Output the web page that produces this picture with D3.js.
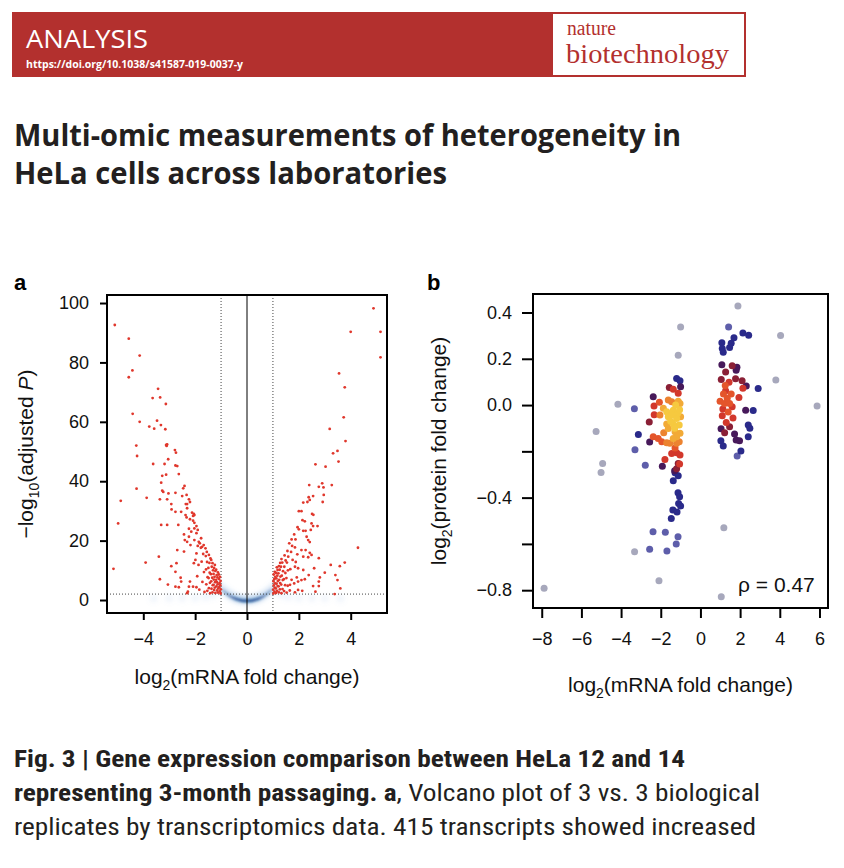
<!DOCTYPE html>
<html>
<head>
<meta charset="utf-8">
<script src="https://cdn.jsdelivr.net/npm/d3@7"></script>
<style>body{margin:0;background:#fff}</style>
</head>
<body>
<div id="fig"></div>
<script>
// ---- PANEL A: volcano plot, significant genes ----
var downGenes = [
  [-5.1,92.6],[-4.56,88.0],[-4.14,82.3],[-4.42,77.3],[-4.56,75.0],[-3.43,71.1],[-3.64,68.0],[-3.35,68.2],
  [-3.13,66.0],[-4.41,62.7],[-4.14,60.0],[-3.77,58.4],[-3.47,60.4],[-3.58,57.7],[-3.32,58.9],[-3.15,57.5],
  [-4.27,52.0],[-4.24,48.5],[-3.08,52.4],[-3.1,51.9],[-3.12,52.2],[-2.78,50.5],[-2.74,49.6],[-3.62,45.8],
  [-3.18,45.8],[-3.04,47.4],[-2.76,45.3],[-2.69,45.1],[-3.27,41.8],[-3.12,42.2],[-2.63,42.4],[-3.31,39.5],
  [-4.26,37.5],[-4.87,33.4],[-2.41,38.4],[-2.46,37.6],[-3.27,36.8],[-3.23,36.4],[-3.03,35.9],[-2.76,36.1],
  [-2.33,35.4],[-2.5,35.0],[-3.87,34.4],[-3.36,33.9],[-3.08,33.9],[-2.24,33.9],[-2.2,33.0],[-2.31,32.3],
  [-2.36,32.3],[-2.92,32.3],[-2.91,30.5],[-2.76,29.7],[-2.54,29.7],[-2.31,30.9],[-2.12,29.4],[-2.05,29.0],
  [-2.08,28.3],[-2.03,28.6],[-2.37,28.6],[-2.33,27.8],[-2.2,27.2],[-2.08,26.7],[-2.03,26.0],[-4.97,25.8],
  [-3.31,25.3],[-3.08,25.3],[-2.65,25.3],[-1.95,24.9],[-2.03,24.1],[-1.9,23.6],[-2.24,24.0],[-2.15,23.0],
  [-1.95,22.5],[-2.43,22.1],[-2.24,21.3],[-2.03,20.2],[-1.77,20.8],[-1.86,19.6],[-2.4,20.2],[-2.31,19.6],
  [-2.18,18.5],[-1.82,19.1],[-1.73,17.9],[-1.67,18.5],[-1.6,17.4],[-2.69,16.8],[-2.43,16.3],[-3.4,14.6],
  [-3.91,12.6],[-5.15,10.5],[-2.92,11.4],[-2.76,9.5],[-2.72,12.4],[-2.05,12.4],[-1.99,13.5],[-3.36,7.0],
  [-3.05,5.2],[-2.56,7.5],[-2.54,6.2],[-2.76,4.5],[-2.63,4.3],[-2.31,2.3],[-2.28,2.8],[-2.2,6.2],
  [-2.24,4.5],[-2.08,4.5],[-1.95,4.3],
  // dense part near the fold-change cut-off
  [-1.02,2.2],[-1.05,2.9],[-1.01,3.6],[-1.07,4.3],[-1.03,5.0],[-1.06,5.7],[-1.02,6.4],[-1.08,7.1],[-1.04,7.8],[-1.09,8.6],
  [-1.12,2.5],[-1.15,3.2],[-1.11,3.9],[-1.18,4.6],[-1.13,5.3],[-1.16,6.0],[-1.19,6.8],[-1.14,7.6],[-1.17,8.4],[-1.12,9.3],[-1.19,10.2],
  [-1.22,2.4],[-1.27,3.4],[-1.24,4.2],[-1.29,5.1],[-1.23,6.0],[-1.28,6.9],[-1.25,7.8],[-1.29,8.8],[-1.22,9.8],[-1.27,10.8],[-1.24,11.8],
  [-1.33,2.6],[-1.37,3.8],[-1.32,5.0],[-1.38,6.3],[-1.34,7.5],[-1.39,8.7],[-1.31,10.0],[-1.36,11.2],[-1.33,12.4],[-1.38,13.5],
  [-1.42,2.3],[-1.47,4.0],[-1.43,5.8],[-1.48,7.4],[-1.44,9.2],[-1.49,10.8],[-1.45,12.5],[-1.41,14.0],[-1.47,15.2],
  [-1.53,3.1],[-1.57,5.3],[-1.52,7.7],[-1.58,10.3],[-1.54,12.8],[-1.59,14.8],[-1.55,16.2],
  [-1.64,2.7],[-1.72,6.1],[-1.66,9.4],[-1.75,12.9],[-1.69,15.5],[-1.78,17.6],
  [-1.84,3.5],[-1.92,8.0],[-1.87,11.8],[-1.95,15.7],[-1.9,18.2]
];
var upGenes = [
  [4.88,98.2],[4.0,90.3],[5.15,90.3],[5.15,81.7],[3.55,76.3],[3.77,71.6],[3.73,61.5],[3.19,57.6],
  [3.8,53.5],[3.32,49.4],[3.49,50.2],[3.53,46.6],[2.64,45.7],[3.03,44.9],[2.4,38.7],[2.77,38.1],
  [2.9,39.3],[2.95,37.9],[3.27,38.7],[2.55,35.0],[2.38,34.6],[2.42,33.7],[2.96,35.4],[2.17,32.8],
  [2.33,33.0],[2.92,33.0],[2.0,29.9],[2.1,29.9],[2.51,29.0],[2.56,28.7],[2.14,26.9],[2.23,26.5],
  [2.49,25.8],[2.55,24.9],[2.72,24.9],[2.46,23.6],[1.95,24.5],[2.0,23.8],[2.17,23.3],[2.26,23.3],
  [1.82,22.1],[1.87,20.4],[1.72,20.4],[2.3,21.3],[2.36,20.2],[2.42,19.5],[4.28,17.6],[1.63,19.1],
  [1.74,18.2],[1.85,17.7],[2.1,16.8],[2.26,16.8],[2.42,15.9],[2.49,15.2],[2.17,14.6],[2.36,14.4],
  [2.77,14.1],[3.23,11.8],[3.58,11.4],[3.77,12.6],[2.59,10.7],[1.85,11.2],[1.97,10.7],[2.17,10.1],
  [3.0,9.2],[3.41,8.4],[3.49,6.7],[2.81,7.6],[2.77,6.2],[2.38,8.4],[2.23,7.0],[1.97,6.2],
  [2.1,6.7],[1.66,5.1],[1.82,5.6],[2.55,4.7],[2.77,4.7],[3.6,3.9],[1.97,3.4],[2.13,3.1],
  [2.64,2.8],[3.38,2.0],
  [1.02,2.2],[1.06,2.8],[1.01,3.5],[1.07,4.2],[1.03,4.9],[1.08,5.6],[1.02,6.3],[1.05,7.0],[1.09,7.8],[1.03,8.6],[1.07,9.5],
  [1.12,2.4],[1.16,3.1],[1.11,3.9],[1.18,4.7],[1.14,5.5],[1.19,6.4],[1.13,7.3],[1.17,8.2],[1.12,9.1],[1.18,10.1],[1.15,11.0],
  [1.23,2.6],[1.27,3.6],[1.22,4.6],[1.28,5.7],[1.24,6.8],[1.29,7.9],[1.21,9.0],[1.26,10.2],[1.23,11.4],[1.28,12.5],
  [1.33,2.3],[1.37,3.7],[1.32,5.2],[1.38,6.7],[1.34,8.2],[1.39,9.7],[1.31,11.2],[1.36,12.6],[1.33,13.8],
  [1.43,3.0],[1.47,5.0],[1.42,7.0],[1.48,9.1],[1.44,11.2],[1.49,13.3],[1.45,15.0],
  [1.53,2.5],[1.57,4.8],[1.52,7.4],[1.58,10.0],[1.54,12.6],[1.59,14.6],[1.56,16.5],
  [1.65,3.2],[1.72,6.8],[1.67,10.4],[1.76,13.5],[1.7,16.2],
  [1.85,2.6],[1.92,7.6],[1.88,12.8],[1.94,15.4]
];
// non-significant genes, shown as a smoothed density (centre line and weight)
var cloudX = [-3.6,-3.0,-2.5,-2.0,-1.6,-1.3,-1.15,-1.05,-0.95,-0.85,-0.75,-0.65,-0.55,-0.45,-0.35,-0.25,-0.15,-0.05,
              0.05,0.15,0.25,0.35,0.45,0.55,0.65,0.75,0.85,0.95,1.05,1.15,1.3,1.6,2.0,2.5,3.0,3.6];
var cloudY = [0.5,0.6,0.7,0.8,1.1,1.8,5.6,4.6,3.7,3.0,2.3,1.7,1.2,0.8,0.5,0.25,0.1,0.05,
              0.05,0.1,0.25,0.5,0.8,1.2,1.7,2.3,3.0,3.7,4.6,5.6,1.8,1.1,0.8,0.7,0.6,0.5];
var cloudW = [0.05,0.06,0.07,0.08,0.1,0.12,0.12,0.2,0.3,0.4,0.5,0.6,0.72,0.82,0.9,0.95,1,1,
              1,1,0.95,0.9,0.82,0.72,0.6,0.5,0.4,0.3,0.2,0.12,0.12,0.1,0.08,0.07,0.06,0.05];
var volcanoXTicks = [-4, -2, 0, 2, 4];
var volcanoYTicks = [0, 20, 40, 60, 80, 100];

// ---- PANEL B: mRNA vs protein, coloured by point density ----
var grayPts = [[1.89,0.428],[-1.0,0.337],[-1.12,0.215],[4.04,0.301],[3.8,0.108],[5.88,-0.004],[-4.16,0.004],
  [-5.26,-0.114],[-4.93,-0.252],[-5.01,-0.291],[-3.32,-0.634],[-2.09,-0.759],[-7.88,-0.792],[1.18,-0.53],[1.05,-0.828]];
var lightBluePts = [[1.42,0.337],[-3.33,-0.016],[-3.3,-0.193],[-2.78,-0.26],[-2.39,-0.547],[-1.77,-0.55],
  [-1.13,-0.569],[-1.22,-0.6],[-2.56,-0.623],[-1.69,-0.631],[1.85,-0.22]];
var navyPts = [[1.08,0.269],[1.1,0.245],[1.15,0.228],[1.47,0.249],[1.55,0.267],[1.69,0.291],[2.14,0.311],
  [2.43,0.302],[2.91,0.072],[2.66,-0.023],[2.41,-0.086],[2.49,-0.1],[2.41,-0.137],[1.03,-0.154],[1.15,-0.177],
  [2.04,-0.199],[-1.2,0.115],[-1.03,0.105],[-3.13,-0.127],[-1.28,-0.292],[-1.12,-0.305],[-1.37,-0.327],
  [-1.13,-0.379],[-1.05,-0.396],[-1.1,-0.425],[-1.0,-0.436],[-1.39,-0.454],[-1.18,-0.462],[-1.47,-0.49]];
var purplePts = [[-2.38,0.036],[-2.56,-0.16],[-1.0,0.079],[-1.92,-0.264],[-1.3,-0.284],[1.08,0.174],[1.84,0.163],
  [1.8,0.151],[2.31,0.082],[2.28,-0.022],[1.04,-0.102],[1.72,-0.125],[1.8,-0.151],[1.97,-0.154]];
var maroonPts = [[-2.58,-0.073],[-1.57,0.076],[-1.2,-0.275],[-1.12,-0.252],[1.6,0.17],[1.27,0.143],[1.05,0.111],
  [1.77,0.114],[2.1,0.105],[1.47,-0.094],[1.22,-0.12]];
var redPts = [[-1.37,0.068],[-1.12,0.051],[-2.34,-0.004],[-2.33,-0.042],[-1.2,-0.206],[-1.03,-0.216],[-1.45,-0.209],
  [-1.79,-0.235],[-1.05,-0.255],[1.44,0.099],[1.27,0.062],[2.14,0.073],[1.94,0.033],[1.6,-0.007],[1.1,-0.046],
  [1.64,-0.056],[1.13,-0.017],[1.3,-0.075]];
var redOrangePts = [[-2.07,0.012],[-2.38,-0.137],[-2.13,-0.144],[-1.95,-0.158],[-1.28,-0.185],[1.16,0.048],
  [1.55,0.048],[0.99,0.016],[1.21,0.007],[1.47,0.007],[1.35,0.03],[1.4,-0.03],[1.25,0.085]];
var orangePts = [[-1.62,0.022],[-1.45,0.014],[-2.04,-0.043],[-1.7,-0.163],[-1.54,-0.165],[-1.07,-0.158],
  [-1.2,-0.165],[-1.85,-0.12]];
var amberPts = [[-1.87,-0.014],[-1.12,0.017],[-1.03,0.007],[-1.62,-0.101],[-1.28,-0.115],[-1.03,-0.122],
  [-1.2,-0.137],[-1.37,-0.144],[-1.7,-0.082],[-1.0,-0.05]];
var yellowPts = [[-1.7,-0.029],[-1.37,-0.022],[-1.15,-0.036],[-1.62,-0.05],[-1.45,-0.043],[-1.2,-0.058],
  [-1.07,-0.086],[-1.37,-0.082],[-1.25,0.0],[-1.05,-0.02],[-1.3,-0.1],[-1.5,-0.07]];
var densityGroups = [grayPts, lightBluePts, navyPts, purplePts, maroonPts, redPts, redOrangePts, orangePts, amberPts, yellowPts];
var densityColors = ["#a7a8bc", "#5e5eaa", "#2a2a8a", "#47195a", "#8a2036", "#d2382c", "#e4552b", "#ec8330", "#f2aa37", "#f6c93f"];
var scatterXTicks = [-8, -6, -4, -2, 0, 2, 4, 6];
var scatterYTicks = [-0.8, -0.6, -0.4, -0.2, 0.0, 0.2, 0.4];
var scatterYHidden = [-0.6, -0.2];
var rho = 0.47;

var W = 844, H = 868;
var sans = "'Liberation Sans', Arial, Helvetica, sans-serif";
var svg = d3.select("#fig").append("svg")
    .attr("width", W).attr("height", H)
    .style("font-family", sans);
svg.append("rect").attr("width", W).attr("height", H).attr("fill", "#fff");

// header banner
var banner = "#b3302e";
svg.append("rect").attr("x", 12).attr("y", 12).attr("width", 734).attr("height", 65).attr("fill", banner);
svg.append("rect").attr("x", 553).attr("y", 14).attr("width", 191).attr("height", 61).attr("fill", "#fff");
svg.append("text").attr("x", 26).attr("y", 48).attr("fill", "#fff")
    .style("font-family", "'Open Sans', sans-serif").style("font-size", "26px")
    .attr("textLength", 122).attr("lengthAdjust", "spacingAndGlyphs").text("ANALYSIS");
svg.append("text").attr("x", 26).attr("y", 68).attr("fill", "#fff")
    .style("font-family", "'Open Sans', sans-serif").style("font-size", "10px").style("font-weight", "bold")
    .attr("textLength", 217).attr("lengthAdjust", "spacingAndGlyphs").text("https://doi.org/10.1038/s41587-019-0037-y");
svg.append("text").attr("x", 567).attr("y", 35).attr("fill", banner)
    .style("font-family", "'Liberation Serif', serif").style("font-size", "20px")
    .attr("textLength", 49).attr("lengthAdjust", "spacingAndGlyphs").text("nature");
svg.append("text").attr("x", 566).attr("y", 63).attr("fill", banner)
    .style("font-family", "'Liberation Serif', serif").style("font-size", "27px")
    .attr("textLength", 163).attr("lengthAdjust", "spacingAndGlyphs").text("biotechnology");

// article title
var titleLines = ["Multi-omic measurements of heterogeneity in", "HeLa cells across laboratories"];
var titleWidths = [667, 433];
svg.selectAll(".title").data(titleLines).enter().append("text")
    .attr("class", "title")
    .attr("x", 14).attr("y", function(d, i) { return 146 + i * 38; })
    .attr("fill", "#231f20")
    .style("font-family", "'Open Sans', 'Noto Sans', sans-serif").style("font-weight", "bold").style("font-size", "30px")
    .attr("textLength", function(d, i) { return titleWidths[i]; })
    .attr("lengthAdjust", "spacingAndGlyphs")
    .text(function(d) { return d; });

function styleAxis(g) {
    g.select(".domain").remove();
    g.selectAll(".tick line").attr("stroke", "#000").attr("stroke-width", 2);
    g.selectAll(".tick text").attr("fill", "#111").style("font-size", "18px").style("font-family", sans);
}

function subLabel(sel, parts) {
    // parts: [text, kind] where kind is "n" normal, "s" subscript, "i" italic
    parts.forEach(function(p, i) {
        var prev = i > 0 ? parts[i - 1][1] : "n";
        var t = sel.append("tspan").text(p[0]);
        if (p[1] == "s") t.style("font-size", "14px").attr("dy", 6);
        else if (prev == "s") t.attr("dy", -6);
        if (p[1] == "i") t.style("font-style", "italic");
    });
}

// ================= PANEL A =================
var A = {left: 107, right: 387, top: 295, bottom: 613};
var xA = d3.scaleLinear().domain([-5.4, 5.4]).range([A.left, A.right]);
var yA = d3.scaleLinear().domain([-4.37, 102.7]).range([A.bottom, A.top]);

var defs = svg.append("defs");
defs.append("clipPath").attr("id", "clipA").append("rect")
    .attr("x", A.left).attr("y", A.top).attr("width", A.right - A.left).attr("height", A.bottom - A.top);
defs.append("filter").attr("id", "blurWide").attr("x", "-50%").attr("y", "-50%").attr("width", "200%").attr("height", "200%")
    .append("feGaussianBlur").attr("stdDeviation", 2.5);
defs.append("filter").attr("id", "blurCore").attr("x", "-50%").attr("y", "-50%").attr("width", "200%").attr("height", "200%")
    .append("feGaussianBlur").attr("stdDeviation", 1);

var pa = svg.append("g").attr("clip-path", "url(#clipA)");

var cloud = cloudX.map(function(x, i) { return {x: x, y: cloudY[i], w: cloudW[i]}; });
pa.append("g").attr("filter", "url(#blurWide)")
    .selectAll("circle").data(cloud).enter().append("circle")
    .attr("cx", d => xA(d.x)).attr("cy", d => yA(d.y)).attr("r", 4)
    .attr("fill", "#7aa8da").attr("fill-opacity", d => 0.1 + d.w * 0.2);
pa.append("g").attr("filter", "url(#blurCore)")
    .selectAll("circle").data(cloud.filter(d => d.w >= 0.3)).enter().append("circle")
    .attr("cx", d => xA(d.x)).attr("cy", d => yA(d.y) + 1).attr("r", 1.8)
    .attr("fill", "#12438a").attr("fill-opacity", d => d.w * 0.75);

// threshold lines
pa.append("line").attr("x1", xA(-1)).attr("x2", xA(-1)).attr("y1", A.top).attr("y2", A.bottom)
    .attr("stroke", "#444").attr("stroke-dasharray", "1,2");
pa.append("line").attr("x1", xA(1)).attr("x2", xA(1)).attr("y1", A.top).attr("y2", A.bottom)
    .attr("stroke", "#444").attr("stroke-dasharray", "1,2");
pa.append("line").attr("x1", A.left).attr("x2", A.right).attr("y1", yA(2)).attr("y2", yA(2))
    .attr("stroke", "#444").attr("stroke-dasharray", "1,2");
pa.append("line").attr("x1", xA(0)).attr("x2", xA(0)).attr("y1", A.top).attr("y2", A.bottom)
    .attr("stroke", "#000").attr("stroke-width", 1);

pa.append("g").selectAll("circle").data(downGenes.concat(upGenes)).enter().append("circle")
    .attr("cx", d => xA(d[0])).attr("cy", d => yA(d[1])).attr("r", 1.4)
    .attr("fill", "#e0372c");

svg.append("rect").attr("x", A.left).attr("y", A.top).attr("width", A.right - A.left).attr("height", A.bottom - A.top)
    .attr("fill", "none").attr("stroke", "#000").attr("stroke-width", 2);

svg.append("g").attr("transform", "translate(" + A.left + ",0)")
    .call(d3.axisLeft(yA).tickValues(volcanoYTicks).tickSize(7).tickPadding(11))
    .call(styleAxis);
svg.append("g").attr("transform", "translate(0," + A.bottom + ")")
    .call(d3.axisBottom(xA).tickValues(volcanoXTicks).tickSize(7).tickPadding(12))
    .call(styleAxis);

var xtA = svg.append("text").attr("x", xA(0)).attr("y", 684).attr("text-anchor", "middle")
    .style("font-size", "21px").attr("fill", "#111");
subLabel(xtA, [["log", "n"], ["2", "s"], ["(mRNA fold change)", "n"]]);
var ytA = svg.append("text").attr("transform", "translate(33," + (A.top + A.bottom) / 2 + ") rotate(-90)")
    .attr("text-anchor", "middle").style("font-size", "21px").attr("fill", "#111");
subLabel(ytA, [["\u2212log", "n"], ["10", "s"], ["(adjusted ", "n"], ["P", "i"], [")", "n"]]);

svg.append("text").attr("x", 14).attr("y", 290).style("font-weight", "bold").style("font-size", "22px").text("a");

// ================= PANEL B =================
var B = {left: 533, right: 828, top: 294, bottom: 608};
var xB = d3.scaleLinear().domain([-8.44, 6.43]).range([B.left, B.right]);
var yB = d3.scaleLinear().domain([-0.877, 0.48]).range([B.bottom, B.top]);

var pb = svg.append("g");
densityGroups.forEach(function(pts, lvl) {
    pb.append("g").selectAll("circle").data(pts).enter().append("circle")
        .attr("cx", d => xB(d[0])).attr("cy", d => yB(d[1])).attr("r", 3.5)
        .attr("fill", densityColors[lvl]);
});

svg.append("rect").attr("x", B.left).attr("y", B.top).attr("width", B.right - B.left).attr("height", B.bottom - B.top)
    .attr("fill", "none").attr("stroke", "#000").attr("stroke-width", 2);

svg.append("g").attr("transform", "translate(" + B.left + ",0)")
    .call(d3.axisLeft(yB).tickValues(scatterYTicks).tickSize(11).tickPadding(10)
        .tickFormat(d => scatterYHidden.some(h => Math.abs(h - d) < 1e-9) ? "" : d3.format(".1f")(d)))
    .call(styleAxis);
svg.append("g").attr("transform", "translate(0," + B.bottom + ")")
    .call(d3.axisBottom(xB).tickValues(scatterXTicks).tickSize(10).tickPadding(14))
    .call(styleAxis);

var xtB = svg.append("text").attr("x", (B.left + B.right) / 2).attr("y", 692).attr("text-anchor", "middle")
    .style("font-size", "21px").attr("fill", "#111");
subLabel(xtB, [["log", "n"], ["2", "s"], ["(mRNA fold change)", "n"]]);
var ytB = svg.append("text").attr("transform", "translate(446," + (B.top + B.bottom) / 2 + ") rotate(-90)")
    .attr("text-anchor", "middle").style("font-size", "21px").attr("fill", "#111");
subLabel(ytB, [["log", "n"], ["2", "s"], ["(protein fold change)", "n"]]);

svg.append("text").attr("x", 738).attr("y", 592).style("font-size", "21px").attr("fill", "#111")
    .text("\u03c1 = " + rho.toFixed(2));

svg.append("text").attr("x", 427).attr("y", 290).style("font-weight", "bold").style("font-size", "22px").text("b");

// ================= CAPTION =================
var capFont = "'Liberation Sans Narrow', 'Roboto Condensed', 'Liberation Sans', sans-serif";
var cap = svg.append("g").attr("fill", "#231f20").style("font-family", capFont).style("font-size", "24px");
cap.append("text").attr("x", 14).attr("y", 767).style("font-weight", "bold")
    .attr("textLength", 671).attr("lengthAdjust", "spacingAndGlyphs")
    .text("Fig. 3 | Gene expression comparison between HeLa 12 and 14");
var l2 = cap.append("text").attr("x", 14).attr("y", 801)
    .attr("textLength", 746).attr("lengthAdjust", "spacingAndGlyphs");
l2.append("tspan").style("font-weight", "bold").text("representing 3-month passaging. a");
l2.append("tspan").text(", Volcano plot of 3 vs. 3 biological");
cap.append("text").attr("x", 14).attr("y", 835)
    .attr("textLength", 742).attr("lengthAdjust", "spacingAndGlyphs")
    .text("replicates by transcriptomics data. 415 transcripts showed increased");
</script>
</body>
</html>
